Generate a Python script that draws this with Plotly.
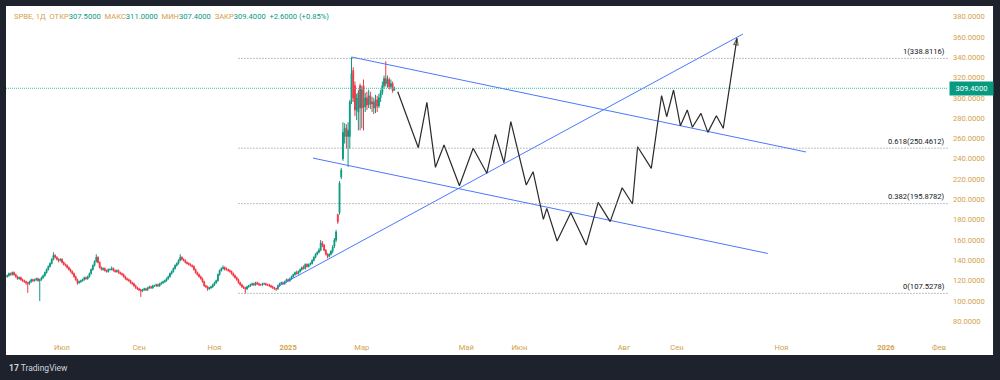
import pandas as pd
import plotly.graph_objects as go

# ---------------- data ----------------
opens = [124,125,127,126,128,126,124,122,123,121,
         120,119,118,117,119,121,120,121,122,120,
         121,123,125,128,131,134,137,141,145,143,
         141,140,141,138,136,135,133,131,129,127,
         124,121,118,119,120,121,123,122,124,127,
         131,135,139,143,138,133,131,132,130,129,
         131,131,132,130,129,130,128,127,126,124,
         122,121,120,118,117,115,113,112,111,110,
         111,112,111,113,114,113,115,115,116,115,
         117,118,119,120,122,124,127,129,132,135,
         137,140,143,141,140,138,137,136,135,134,
         131,128,126,124,122,119,115,114,112,113,
         114,116,118,120,126,130,132,133,131,131,
         130,129,127,125,123,121,118,116,114,113,
         112,114,115,116,117,116,118,117,116,116,
         117,117,116,116,115,114,113,112,112,115,
         117,118,117,119,121,120,122,124,126,128,
         127,129,131,133,132,136,134,136,137,140,
         143,146,148,150,157,155,150,146,144,146,
         149,154,160,185,187,222,240,262,270,262,
         262,296,327,312,288,286,312,
         290,312,291,300,293,302,294,296,290,298,
         292,300,305,312,319,314,318,311,314,307.5]
highs = [126,128,128,129,129,127,125,124,124,122,
         121,120,119,120,122,122,122,123,123,122,
         124,126,129,132,135,138,142,148,146,144,
         142,142,142,139,137,136,134,132,130,128,
         125,122,120,121,122,124,124,125,128,132,
         136,140,146,144,139,134,133,133,131,132,
         132,134,133,131,131,131,129,128,127,125,
         123,122,121,119,118,116,114,113,112,112,
         113,113,114,115,115,116,116,117,117,118,
         119,120,121,123,125,128,130,133,136,138,
         141,146,144,142,141,139,138,137,136,135,
         132,129,127,125,123,120,116,115,114,115,
         117,119,121,127,131,133,135,134,133,132,
         131,130,128,126,124,122,119,117,115,114,
         115,116,117,118,118,119,119,118,117,118,
         118,118,117,117,116,115,114,113,116,118,
         119,119,120,122,122,123,125,127,129,130,
         130,132,134,135,137,137,137,138,141,144,
         147,149,152,160,159,156,151,147,147,150,
         155,162,170,186,218,231,276,275,274,276,
         298,340,330,316,304,308,314,
         312,318,305,306,308,306,301,300,303,302,
         304,308,316,322,336,322,320,318,316,311]
lows = [123,124,125,125,125,123,121,121,120,119,
        118,116,108,116,118,119,119,120,119,100,
        120,122,124,127,130,133,136,140,142,140,
        138,139,137,135,134,132,130,128,126,123,
        120,116,117,118,119,120,121,121,123,126,
        130,134,138,137,132,130,130,129,128,128,
        130,130,129,128,128,127,126,125,123,121,
        120,119,117,116,114,112,111,110,104,109,
        110,110,110,112,112,112,114,114,114,114,
        116,117,118,119,121,123,126,128,131,134,
        136,139,140,139,137,136,135,134,133,130,
        127,125,123,121,118,114,113,110,111,112,
        113,115,117,119,125,129,131,130,130,129,
        128,126,124,122,120,117,115,113,112,107.5,
        111,113,114,115,115,115,116,115,115,115,
        116,115,115,114,113,112,111,110,111,114,
        116,116,116,118,119,119,121,123,125,126,
        126,128,130,131,131,133,133,135,136,139,
        142,145,147,149,153,149,145,142,143,145,
        147,152,158,176,185,220,238,255,250,232,
        250,294,296,282,278,268,268,
        270,268,286,288,290,289,286,284,285,286,
        290,296,303,309,311,310,308,309,305,307.4]
closes = [125,127,126,128,126,124,122,123,121,120,
          119,118,117,119,121,120,121,122,120,121,
          123,125,128,131,134,137,141,145,143,141,
          140,141,138,136,135,133,131,129,127,124,
          121,118,119,120,121,123,122,124,127,131,
          135,139,143,138,133,131,132,130,129,131,
          131,132,130,129,130,128,127,126,124,122,
          121,120,118,117,115,113,112,111,110,111,
          112,111,113,114,113,115,115,116,115,117,
          118,119,120,122,124,127,129,132,135,137,
          140,143,141,140,138,137,136,135,134,131,
          128,126,124,122,119,115,114,112,113,114,
          116,118,120,126,130,132,133,131,131,130,
          129,127,125,123,121,118,116,114,113,112,
          114,115,116,117,116,118,117,116,116,117,
          117,116,116,115,114,113,112,112,115,117,
          118,117,119,121,120,122,124,126,128,127,
          129,131,133,132,136,134,136,137,140,143,
          146,148,150,157,155,150,146,144,146,149,
          153,160,168,178,216,229,266,270,262,268,
          296,324,300,288,300,305,290,
          308,291,300,293,302,294,296,290,298,292,
          300,305,312,319,314,318,311,314,306.8,309.4]

# trading days (weekdays) until end of Feb 2025, then every calendar day
bar_dates = ([d.strftime("%Y-%m-%d") for d in pd.bdate_range("2024-05-16", "2025-02-28")] +
             [d.strftime("%Y-%m-%d") for d in pd.date_range("2025-03-01", "2025-03-20")])
weekend_breaks = [d.strftime("%Y-%m-%d") for d in pd.date_range("2024-05-11", "2025-02-23")
                  if d.weekday() >= 5]

last_price = 309.4

fib_ratios = ["1", "0.618", "0.382", "0"]
fib_values = [338.8116, 250.4612, 195.8782, 107.5278]
fib_start = "2024-11-21"

trend_upper_x = ["2025-02-21", "2025-11-15 07:00"]
trend_upper_y = [340.2, 246.7]
trend_lower_x = ["2025-01-21 12:00", "2025-10-24"]
trend_lower_y = [240.7, 146.8]
trend_rise_x = ["2024-12-23 12:00", "2025-10-09 12:00"]
trend_rise_y = [113.8, 362.8]

path_dates = ["2025-03-22", "2025-04-03", "2025-04-08", "2025-04-13", "2025-04-18", "2025-04-27",
              "2025-05-05", "2025-05-13", "2025-05-18", "2025-05-23", "2025-05-27", "2025-06-05",
              "2025-06-09", "2025-06-15", "2025-06-17", "2025-06-23", "2025-07-01", "2025-07-10",
              "2025-07-17", "2025-07-24", "2025-07-31", "2025-08-06", "2025-08-09", "2025-08-17",
              "2025-08-23", "2025-08-26", "2025-08-30", "2025-09-03", "2025-09-07", "2025-09-10",
              "2025-09-15", "2025-09-19", "2025-09-24", "2025-09-28", "2025-10-06"]
path_values = [306.0, 250.9, 295.6, 231.6, 253.5, 213.5, 250.3, 225.7, 264.1, 236.1, 276.5, 214.2,
               227.3, 180.4, 191.2, 159.1, 186.9, 155.1, 197.1, 178.1, 211.5, 195.5, 251.9, 230.6,
               302.1, 281.4, 307.7, 272.5, 288.0, 271.0, 284.7, 266.0, 282.4, 270.0, 358.6]

month_ticks = ["2024-07-01", "2024-09-02", "2024-11-01", "2025-01-01", "2025-03-01", "2025-05-01",
               "2025-06-01", "2025-08-01", "2025-09-01", "2025-11-01", "2026-01-01", "2026-02-01"]
month_labels = ["Июл", "Сен", "Ноя", "<b>2025</b>", "Мар", "Май", "Июн", "Авг", "Сен", "Ноя",
                "<b>2026</b>", "Фев"]
price_ticks = [80, 100, 120, 140, 160, 180, 200, 220, 240, 260, 280, 300, 320, 340, 360, 380]

x_range = ["2024-05-15 07:12", "2026-02-06 05:00"]
y_range = [69.5, 390.4]

# ---------------- style ----------------
GOLD = "#d4a24c"
TEAL = "#089981"
RED = "#f23645"
BLUE = "#4a78ff"
FONT = "Roboto"
FS = 7.6

fig = go.Figure()

fig.add_trace(go.Candlestick(
    x=bar_dates, open=opens, high=highs, low=lows, close=closes,
    increasing=dict(line=dict(color=TEAL, width=1), fillcolor=TEAL),
    decreasing=dict(line=dict(color=RED, width=1), fillcolor=RED),
    whiskerwidth=0, hoverinfo="skip", showlegend=False))

for tx, ty in [(trend_upper_x, trend_upper_y), (trend_lower_x, trend_lower_y),
               (trend_rise_x, trend_rise_y)]:
    fig.add_trace(go.Scatter(x=tx, y=ty, mode="lines", line=dict(color=BLUE, width=1),
                             hoverinfo="skip", showlegend=False))

fig.add_trace(go.Scatter(x=path_dates, y=path_values, mode="lines",
                         line=dict(color="#2a2a2a", width=1.2), hoverinfo="skip",
                         showlegend=False))
fig.add_trace(go.Scatter(x=path_dates[-2:], y=path_values[-2:], mode="markers",
                         marker=dict(symbol="arrow-open", size=[0, 7], angleref="previous",
                                     color="#2a2a2a", line=dict(color="#2a2a2a", width=1.1)),
                         hoverinfo="skip", showlegend=False))

shapes = []
# white panel behind everything
shapes.append(dict(type="rect", xref="paper", yref="paper", x0=0, x1=1.0478, y0=-0.0706, y1=1,
                   fillcolor="white", line=dict(width=0), layer="below"))
# fib levels
for v in fib_values:
    shapes.append(dict(type="line", xref="x", yref="y", x0=fib_start, x1=x_range[1], y0=v, y1=v,
                       line=dict(color="#80838c", width=1, dash="1px,2px")))
# last price line
shapes.append(dict(type="line", xref="x", yref="y", x0=x_range[0], x1=x_range[1],
                   y0=last_price, y1=last_price,
                   line=dict(color="#3fb8a3", width=1, dash="1px,1px")))

annotations = []
for r, v in zip(fib_ratios, fib_values):
    annotations.append(dict(xref="paper", yref="y", x=0.9987, y=v, xanchor="right",
                            yanchor="middle", yshift=7, showarrow=False,
                            text=f"{r}({v:.4f})", font=dict(family=FONT, size=FS, color="#131722")))

annotations.append(dict(xref="paper", yref="y", x=1.0011, y=last_price, xanchor="left",
                        yanchor="middle", showarrow=False, text=f"{last_price:.4f}",
                        bgcolor=TEAL, borderpad=2, width=39,
                        font=dict(family=FONT, size=FS, color="white")))

def g(t):
    return f'<span style="color:{GOLD}">{t}</span>'

def t_(t):
    return f'<span style="color:{TEAL}">{t}</span>'

sp = "\u00a0\u00a0"
header = (g("SPBE, 1Д") + sp + g("ОТКР") + t_("307.5000") + sp + g("МАКС") + t_("311.0000") + sp +
          g("МИН") + t_("307.4000") + sp + g("ЗАКР") + t_("309.4000") + sp + t_("+2.6000 (+0.85%)"))
annotations.append(dict(xref="paper", yref="paper", x=0.0064, y=0.969, xanchor="left",
                        yanchor="middle", showarrow=False, text=header,
                        font=dict(family=FONT, size=FS)))
annotations.append(dict(xref="paper", yref="paper", x=0.001, y=-0.1104, xanchor="left",
                        yanchor="middle", showarrow=False,
                        text="<b>17</b> TradingView",
                        font=dict(family=FONT, size=8.5, color="#d1d4dc")))

fig.update_layout(
    width=1000, height=380,
    margin=dict(l=6, r=52, t=6, b=48),
    paper_bgcolor="#1e222d", plot_bgcolor="white",
    shapes=shapes, annotations=annotations,
    xaxis=dict(type="date", range=x_range, rangebreaks=[dict(values=weekend_breaks)],
               rangeslider=dict(visible=False), tickvals=month_ticks, ticktext=month_labels,
               showgrid=False, zeroline=False, showline=False, ticks="",
               ticklabelstandoff=9, tickfont=dict(family=FONT, size=FS, color=GOLD)),
    yaxis=dict(side="right", range=y_range, tickvals=price_ticks,
               ticktext=[f"{v:.4f}" for v in price_ticks], showgrid=False, zeroline=False,
               showline=False, ticks="", ticklabelstandoff=4,
               tickfont=dict(family=FONT, size=FS, color=GOLD)),
    hovermode=False,
)

fig.write_html("out.html", config={"displayModeBar": False},
               post_script="document.body.style.margin='0';")
